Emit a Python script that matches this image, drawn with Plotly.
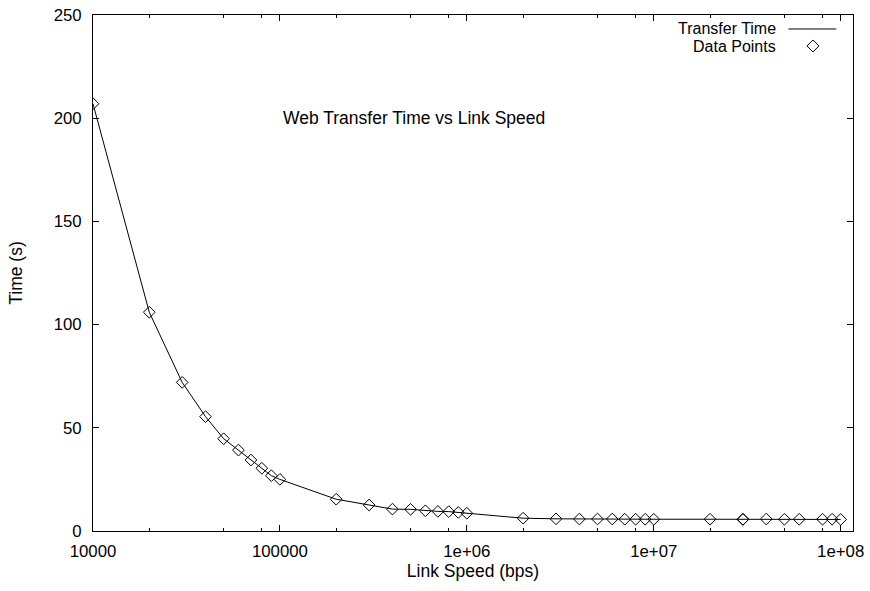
import plotly.graph_objects as go

# Data
link_speed = [1e4, 2e4, 3e4, 4e4, 5e4, 6e4, 7e4, 8e4, 9e4, 1e5,
              2e5, 3e5, 4e5, 5e5, 6e5, 7e5, 8e5, 9e5, 1e6,
              2e6, 3e6, 4e6, 5e6, 6e6, 7e6, 8e6, 9e6, 1e7,
              2e7, 3e7, 3e7, 4e7, 5e7, 6e7, 8e7, 9e7, 1e8]
transfer_time = [207.0, 106.0, 72.0, 55.4, 44.7, 39.2, 34.4, 30.4, 26.8, 25.0,
                 15.4, 12.6, 10.6, 10.5, 9.8, 9.5, 9.4, 9.0, 8.6,
                 6.2, 5.9, 5.8, 5.8, 5.8, 5.7, 5.7, 5.7, 5.7,
                 5.7, 5.7, 5.6, 5.8, 5.7, 5.7, 5.7, 5.7, 5.6]

x_tick_vals = [1e4, 1e5, 1e6, 1e7, 1e8]
x_tick_text = ["10000", "100000", "1e+06", "1e+07", "1e+08"]
x_minor_vals = [m * d for d in [1e4, 1e5, 1e6, 1e7] for m in (2, 5, 8)]
y_tick_vals = [0, 50, 100, 150, 200, 250]

FONT = "Liberation Sans, Arial, Helvetica, sans-serif"
FS = 17.5
TFS = 16.8
LFS = 16

fig = go.Figure()
fig.add_trace(go.Scatter(x=link_speed, y=transfer_time, mode="lines",
                         line=dict(color="black", width=1),
                         name="Transfer Time", showlegend=False))
fig.add_trace(go.Scatter(x=link_speed, y=transfer_time, mode="markers",
                         marker=dict(symbol="diamond-open", size=9,
                                     color="black", line=dict(width=1, color="black")),
                         name="Data Points", showlegend=False))

fig.update_xaxes(type="log", range=[4, 8.066], automargin=False,
                 tickmode="array", tickvals=x_tick_vals, ticktext=x_tick_text,
                 ticks="inside", ticklen=6, tickcolor="black", tickwidth=1,
                 ticklabelstandoff=5,
                 minor=dict(tickmode="array", tickvals=x_minor_vals, ticks="inside",
                            ticklen=3, tickcolor="black", tickwidth=1, showgrid=False),
                 showline=True, linecolor="black", linewidth=1, mirror="ticks",
                 showgrid=False, zeroline=False,
                 tickfont=dict(family=FONT, size=TFS, color="black"),
                 title=dict(text="Link Speed (bps)", standoff=4,
                            font=dict(family=FONT, size=FS, color="black")))
fig.update_yaxes(range=[0, 250], automargin=False,
                 tickmode="array", tickvals=y_tick_vals,
                 ticks="inside", ticklen=6, tickcolor="black", tickwidth=1,
                 ticklabelstandoff=7,
                 showline=True, linecolor="black", linewidth=1, mirror="ticks",
                 showgrid=False, zeroline=False,
                 tickfont=dict(family=FONT, size=TFS, color="black"),
                 title=dict(text="Time (s)", standoff=26,
                            font=dict(family=FONT, size=FS, color="black")))

# Inner label
fig.add_annotation(text="Web Transfer Time vs Link Speed", xref="paper", yref="paper",
                   x=0.247, y=0.800, xanchor="left", yanchor="middle", showarrow=False,
                   font=dict(family=FONT, size=FS, color="black"))

# Gnuplot-style legend (text right, sample to the right)
fig.add_annotation(text="Transfer Time", xref="paper", yref="paper",
                   x=0.901, y=0.9748, xanchor="right", yanchor="middle", showarrow=False,
                   font=dict(family=FONT, size=LFS, color="black"))
fig.add_annotation(text="Data Points", xref="paper", yref="paper",
                   x=0.901, y=0.9390, xanchor="right", yanchor="middle", showarrow=False,
                   font=dict(family=FONT, size=LFS, color="black"))
fig.add_shape(type="line", xref="paper", yref="paper",
              x0=0.915, x1=0.978, y0=0.9729, y1=0.9729,
              line=dict(color="black", width=1))
fig.add_shape(type="path", xref="paper", yref="paper",
              xsizemode="pixel", ysizemode="pixel", xanchor=0.9473, yanchor=0.940,
              path="M -6,0 L 0,6 L 6,0 L 0,-6 Z",
              line=dict(color="black", width=1), fillcolor="rgba(0,0,0,0)")

fig.update_layout(width=870, height=591,
                  margin=dict(l=93, r=17, t=15, b=60),
                  paper_bgcolor="white", plot_bgcolor="white",
                  font=dict(family=FONT, size=FS, color="black"))

fig.write_html("out.html")
